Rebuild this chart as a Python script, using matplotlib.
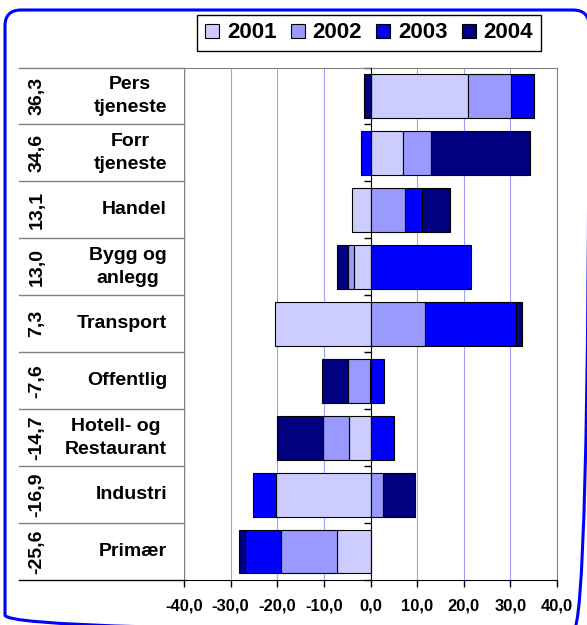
import numpy as np
import matplotlib
matplotlib.use("Agg")
import matplotlib.pyplot as plt
from matplotlib.patches import Patch, FancyBboxPatch

plt.rcParams['font.family'] = ['Liberation Sans', 'DejaVu Sans']

categories = ['Pers\ntjeneste', 'Forr\ntjeneste', 'Handel', 'Bygg og\nanlegg', 'Transport',
              'Offentlig', 'Hotell- og\nRestaurant', 'Industri', 'Primær']
totals = ['36,3', '34,6', '13,1', '13,0', '7,3', '-7,6', '-14,7', '-16,9', '-25,6']
years = ['2001', '2002', '2003', '2004']
v2001 = [21.0, 7.0, -3.9, -3.5, -20.4, -0.2, -4.7, -20.2, -7.1]
v2002 = [9.1, 5.9, 7.5, -1.3, 11.7, -4.6, -5.5, 2.7, -12.2]
v2003 = [4.9, -2.0, 3.6, 21.5, 19.4, 2.9, 5.1, -5.0, -7.6]
v2004 = [-1.4, 21.4, 5.9, -2.3, 1.4, -5.6, -9.9, 6.8, -1.4]
series = [v2001, v2002, v2003, v2004]
colors = ['#CCCCFF', '#9999FF', '#0000FF', '#000080']
xticks = [-40, -30, -20, -10, 0, 10, 20, 30, 40]

W, H = 587, 625
fig = plt.figure(figsize=(W / 100, H / 100), dpi=100)

# outer rounded frame
bg = fig.add_axes([0, 0, 1, 1])
bg.set_xlim(0, W)
bg.set_ylim(H, 0)
bg.axis('off')
bg.add_patch(FancyBboxPatch((5, 10), 584, 621, boxstyle='round,pad=0,rounding_size=16',
                            fill=False, ec='#0000FF', lw=2.2))

L, R, T, B = 184, 557, 67.5, 580
ax = fig.add_axes([L / W, (H - B) / H, (R - L) / W, (B - T) / H])
n = len(categories)
y = np.arange(n)
pos = np.zeros(n)
neg = np.zeros(n)
for vals, c in zip(series, colors):
    vals = np.array(vals)
    left = np.where(vals >= 0, pos, neg)
    ax.barh(y, vals, left=left, height=0.77, color=c, edgecolor='black', lw=0.8, zorder=3)
    pos = pos + np.where(vals >= 0, vals, 0)
    neg = neg + np.where(vals < 0, vals, 0)

ax.set_xlim(-40, 40)
ax.set_ylim(n - 0.5, -0.5)
ax.set_xticks(xticks)
ax.set_xticklabels([f'{v:.1f}'.replace('.', ',') for v in xticks], fontsize=12, fontweight='bold')
ax.tick_params(axis='x', direction='out', length=5, width=1, color='black', pad=8)
for v in xticks[1:-1]:
    if v != 0:
        ax.axvline(v, color='#A0A0FF', lw=0.8, zorder=1)
ax.axvline(-40, color='#808080', lw=1, zorder=1)

ax.spines['left'].set_position(('data', 0))
ax.spines['left'].set_color('black')
ax.spines['left'].set_zorder(4)
ax.spines['bottom'].set_color('black')
ax.spines['top'].set_color('#808080')
ax.spines['right'].set_color('#808080')
ax.set_yticks(np.arange(-0.5, n, 1.0))
ax.set_yticklabels([])
ax.tick_params(axis='y', direction='out', length=5, width=1, color='black')

# category table on the left
xl = (19.3 - L) / (R - L)
tr = ax.get_yaxis_transform()
for b in np.arange(-0.5, n - 0.5, 1.0):
    ax.plot([xl, 0], [b, b], transform=tr, color='#808080', lw=1, clip_on=False)
ax.plot([xl, 0], [n - 0.5, n - 0.5], transform=tr, color='black', lw=1, clip_on=False)
xn = (167 - L) / (R - L)
xt = (37 - L) / (R - L)
for i in range(n):
    ax.text(xn, i, categories[i], transform=tr, ha='right', va='center', ma='center',
            fontsize=14, fontweight='bold', linespacing=1.45)
    ax.text(xt, i, totals[i], transform=tr, ha='center', va='center', rotation=90,
            fontsize=14, fontweight='bold')

handles = [Patch(facecolor=c, edgecolor='black', lw=0.8, label=yy) for c, yy in zip(colors, years)]
leg = fig.legend(handles=handles, loc='center', bbox_to_anchor=(369 / W, 1 - 33 / H), ncol=4,
                 prop={'weight': 'bold', 'size': 16}, handlelength=0.63, handleheight=0.6,
                 handletextpad=0.36, columnspacing=0.63, borderpad=0.35, fancybox=False,
                 framealpha=1, edgecolor='black')
leg.get_frame().set_linewidth(1)

fig.savefig('out.png', dpi=100)
